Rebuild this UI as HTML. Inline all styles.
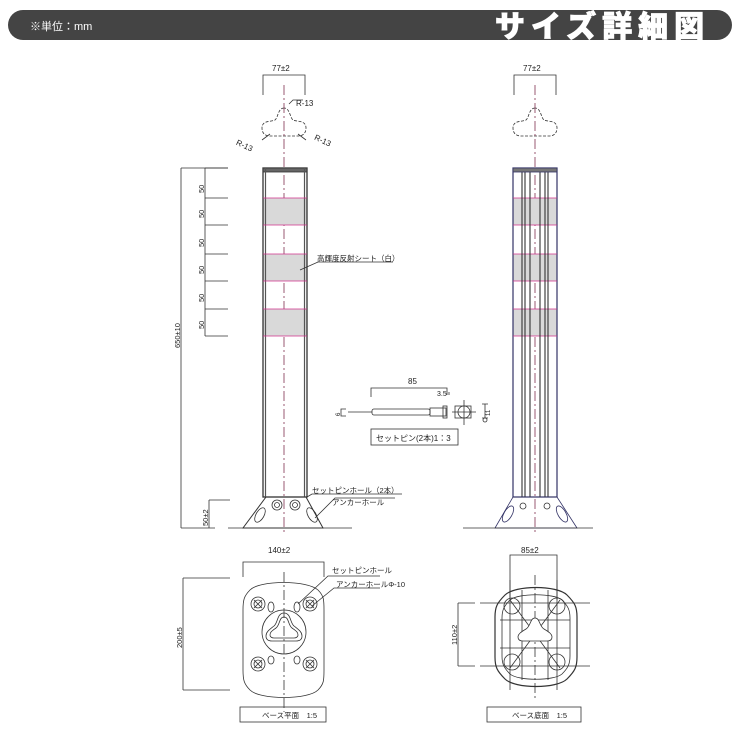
<!DOCTYPE html>
<html><head><meta charset="utf-8"><style>
body{margin:0;background:#fff;width:740px;height:740px;overflow:hidden}
svg{display:block}
text{font-family:"Liberation Sans","Noto Sans CJK JP",sans-serif;fill:#222}
</style></head><body>
<svg width="740" height="740" viewBox="0 0 740 740" xmlns="http://www.w3.org/2000/svg">
<!-- header -->
<rect x="8" y="10" width="724" height="30" rx="15" fill="#444"/>
<text x="30" y="30" font-size="11" style="fill:#fff">※単位：mm</text>
<text x="495" y="37" font-size="30" letter-spacing="6" style="fill:#fff;font-family:'Noto Sans CJK JP',sans-serif;font-weight:900" stroke="#fff" stroke-width="0.8">サイズ詳細図</text>

<g stroke="#333" stroke-width="0.8" fill="none">
<!-- LEFT POST -->
<path d="M263 95V75H305V95"/>
<path d="M284 108c-6 0-6 10-9 12c-4 2-13 0-13 8c0 6 4 8 8 8h28c4 0 8-2 8-8c0-8-9-6-13-8c-3-2-3-12-9-12z" stroke-dasharray="3 1.5"/>
<path d="M289 104l4-4h10M270 134l-8 6M298 134l8 6"/>
<line x1="284" y1="85" x2="284" y2="535" stroke="#803050" stroke-dasharray="10 3 2 3"/>
<rect x="263" y="198" width="44" height="27" fill="#d9d9d9" stroke="none"/>
<rect x="263" y="254" width="44" height="27" fill="#d9d9d9" stroke="none"/>
<rect x="263" y="309" width="44" height="27" fill="#d9d9d9" stroke="none"/>
<rect x="263" y="168" width="44" height="329" stroke-width="1.3"/>
<rect x="263" y="168" width="44" height="4" fill="#666"/>
<line x1="265.5" y1="168" x2="265.5" y2="497" stroke="#555" stroke-width="1.2"/>
<line x1="304.5" y1="168" x2="304.5" y2="497" stroke="#555" stroke-width="1.2"/>
<g stroke="#d0308a"><path d="M263 198h44M263 225h44M263 254h44M263 281h44M263 309h44M263 336h44"/></g>
<path d="M266 497h40l17 31h-80z" stroke-width="1"/>
<line x1="228" y1="528" x2="352" y2="528"/>
<circle cx="277" cy="505" r="5"/><circle cx="295" cy="505" r="5"/>
<circle cx="277" cy="505" r="2.5"/><circle cx="295" cy="505" r="2.5"/>
<ellipse cx="260" cy="515" rx="4" ry="8" transform="rotate(30 260 515)"/>
<ellipse cx="312" cy="515" rx="4" ry="8" transform="rotate(-30 312 515)"/>
<path d="M181 168V528M181 168H228M181 528H215"/>
<path d="M205 168V336M205 168H228M205 198H228M205 225H228M205 254H228M205 281H228M205 309H228M205 336H228"/>
<path d="M209 500V528M209 500H230"/>
<path d="M300 270l18-8h75"/>
<path d="M307 497l5-3h90M315 518l20-20h60"/>
<!-- RIGHT POST -->
<path d="M514 95V75H556V95"/>
<path d="M535 108c-6 0-6 10-9 12c-4 2-13 0-13 8c0 6 4 8 8 8h28c4 0 8-2 8-8c0-8-9-6-13-8c-3-2-3-12-9-12z" stroke-dasharray="3 1.5"/>
<line x1="535" y1="85" x2="535" y2="535" stroke="#803050" stroke-dasharray="10 3 2 3"/>
<rect x="513" y="198" width="44" height="27" fill="#d9d9d9" stroke="none"/>
<rect x="513" y="254" width="44" height="27" fill="#d9d9d9" stroke="none"/>
<rect x="513" y="309" width="44" height="27" fill="#d9d9d9" stroke="none"/>
<rect x="513" y="168" width="44" height="329" stroke="#336" stroke-width="1.2"/>
<g stroke="#d0308a"><path d="M513 198h44M513 225h44M513 254h44M513 281h44M513 309h44M513 336h44"/></g>
<g stroke="#333" stroke-width="1.1"><path d="M522 170V497M525 170V497M530 170V497M540 170V497M545 170V497M548 170V497"/></g>
<rect x="513" y="168" width="44" height="4" fill="#777" stroke="#336"/>
<path d="M513 497h44l20 31h-82z" stroke="#336"/>
<line x1="463" y1="528" x2="593" y2="528"/>
<circle cx="523" cy="506" r="3"/><circle cx="547" cy="506" r="3"/>
<ellipse cx="508" cy="514" rx="4" ry="9" transform="rotate(30 508 514)" stroke="#336"/>
<ellipse cx="562" cy="514" rx="4" ry="9" transform="rotate(-30 562 514)" stroke="#336"/>
<!-- PIN -->
<path d="M371 397V388H447V395M449 395V392"/>
<path d="M346 409h-5v7h5M348 412h24"/>
<rect x="372" y="409" width="58" height="6" rx="2"/>
<rect x="430" y="408" width="16" height="8"/>
<rect x="443" y="406" width="4" height="12"/>
<rect x="455" y="406" width="16" height="12"/>
<circle cx="464" cy="412" r="6"/>
<path d="M464 400V425M452 412H476M485 404V418M482 404h6M482 418h6"/>
<circle cx="485" cy="420" r="2"/>
<rect x="371" y="429" width="87" height="16"/>
<!-- BASE PLAN LEFT -->
<path d="M243 577V562H324V577"/>
<path d="M183 578H230M183 578V690M183 690H230"/>
<path d="M250 590c10-10 57-10 68 0c6 6 6 10 6 20v60c0 10 0 14-6 20c-10 10-58 10-68 0c-6-6-7-10-7-20v-60c0-10 1-14 7-20z"/>
<line x1="284" y1="572" x2="284" y2="712" stroke-dasharray="10 3 2 3"/>
<circle cx="284" cy="632" r="22"/>
<path d="M284 613c-7 0-6 10-10 13c-5 4-8 6-8 10c0 4 3 5 6 5h24c3 0 6-1 6-5c0-4-3-6-8-10c-4-3-3-13-10-13z"/>
<path d="M284 617c-5 0-4 8-8 11c-4 3-6 4-6 7c0 2 2 3 4 3h20c2 0 4-1 4-3c0-3-2-4-6-7c-4-3-3-11-8-11z"/>
<g><circle cx="258" cy="604" r="7"/><circle cx="258" cy="604" r="4"/><path d="M254 600l8 8M262 600l-8 8"/>
<circle cx="310" cy="604" r="7"/><circle cx="310" cy="604" r="4"/><path d="M306 600l8 8M314 600l-8 8"/>
<circle cx="258" cy="664" r="7"/><circle cx="258" cy="664" r="4"/><path d="M254 660l8 8M262 660l-8 8"/>
<circle cx="310" cy="664" r="7"/><circle cx="310" cy="664" r="4"/><path d="M306 660l8 8M314 660l-8 8"/></g>
<ellipse cx="271" cy="607" rx="3" ry="5"/><ellipse cx="297" cy="607" rx="3" ry="5"/>
<ellipse cx="271" cy="660" rx="3" ry="4"/><ellipse cx="297" cy="660" rx="3" ry="4"/>
<path d="M298 604l30-28h52M312 606l22-18h46"/>
<rect x="240" y="707" width="86" height="15"/>
<!-- BASE BOTTOM RIGHT -->
<path d="M510 600V555H557V600"/>
<path d="M458 603H475M458 603V666M458 666H475"/>
<path d="M505 595c10-10 52-10 62 0c8 8 10 12 10 22v40c0 10-2 14-10 22c-10 10-52 10-62 0c-8-8-10-12-10-22v-40c0-10 2-14 10-22z" stroke-width="1.2"/>
<path d="M510 600c8-7 44-7 52 0c6 6 8 10 8 18v38c0 8-2 12-8 18c-8 7-44 7-52 0c-6-6-8-10-8-18v-38c0-8 2-12 8-18z"/>
<line x1="535" y1="575" x2="535" y2="700" stroke-dasharray="10 3 2 3"/>
<path d="M480 603H590M480 666H590M510 580V690M557 580V690"/>
<path d="M500 620h70M500 648h70M522 590v90M548 590v90M510 600l50 68M560 600l-50 68"/>
<circle cx="512" cy="606" r="8"/><circle cx="557" cy="606" r="8"/>
<circle cx="512" cy="662" r="8"/><circle cx="557" cy="662" r="8"/>
<path d="M535 618c-5 0-4 8-9 11c-5 3-8 5-8 8c0 3 2 4 5 4h24c3 0 5-1 5-4c0-3-3-5-8-8c-5-3-4-11-9-11z" fill="#fff"/>
<rect x="487" y="707" width="94" height="15"/>
</g>

<g font-size="8">
<text x="272" y="71">77±2</text>
<text x="296" y="106">R-13</text>
<text x="236" y="148" transform="rotate(25 244 145)">R-13</text>
<text x="314" y="142" transform="rotate(25 320 140)">R-13</text>
<text x="523" y="71">77±2</text>
<g font-size="7.5">
<text transform="translate(204 193) rotate(-90)">50</text>
<text transform="translate(204 218) rotate(-90)">50</text>
<text transform="translate(204 247) rotate(-90)">50</text>
<text transform="translate(204 274) rotate(-90)">50</text>
<text transform="translate(204 302) rotate(-90)">50</text>
<text transform="translate(204 329) rotate(-90)">50</text>
<text transform="translate(180 348) rotate(-90)">650±10</text>
<text transform="translate(208 526) rotate(-90)">50±2</text>
<text transform="translate(182 648) rotate(-90)">200±5</text>
<text transform="translate(457 645) rotate(-90)">110±2</text>
</g>
<text x="317" y="261" font-size="7.5">高輝度反射シート（白）</text>
<text x="312" y="493" font-size="7.5">セットピンホール（2本）</text>
<text x="332" y="505" font-size="7.5">アンカーホール</text>
<text x="408" y="384">85</text>
<text x="437" y="396" font-size="7">3.5</text>
<text transform="translate(340 416) rotate(-90)" font-size="6">6</text>
<text transform="translate(490 416) rotate(-90)" font-size="6">11</text>
<text x="376" y="441" font-size="8">セットピン(2本)1：3</text>
<text x="268" y="553">140±2</text>
<text x="332" y="573" font-size="7.5">セットピンホール</text>
<text x="336" y="587" font-size="7.5">アンカーホールΦ-10</text>
<text x="262" y="718" font-size="7.5">ベース平面　1:5</text>
<text x="521" y="553">85±2</text>
<text x="512" y="718" font-size="7.5">ベース底面　1:5</text>
</g>
</svg>
</body></html>
